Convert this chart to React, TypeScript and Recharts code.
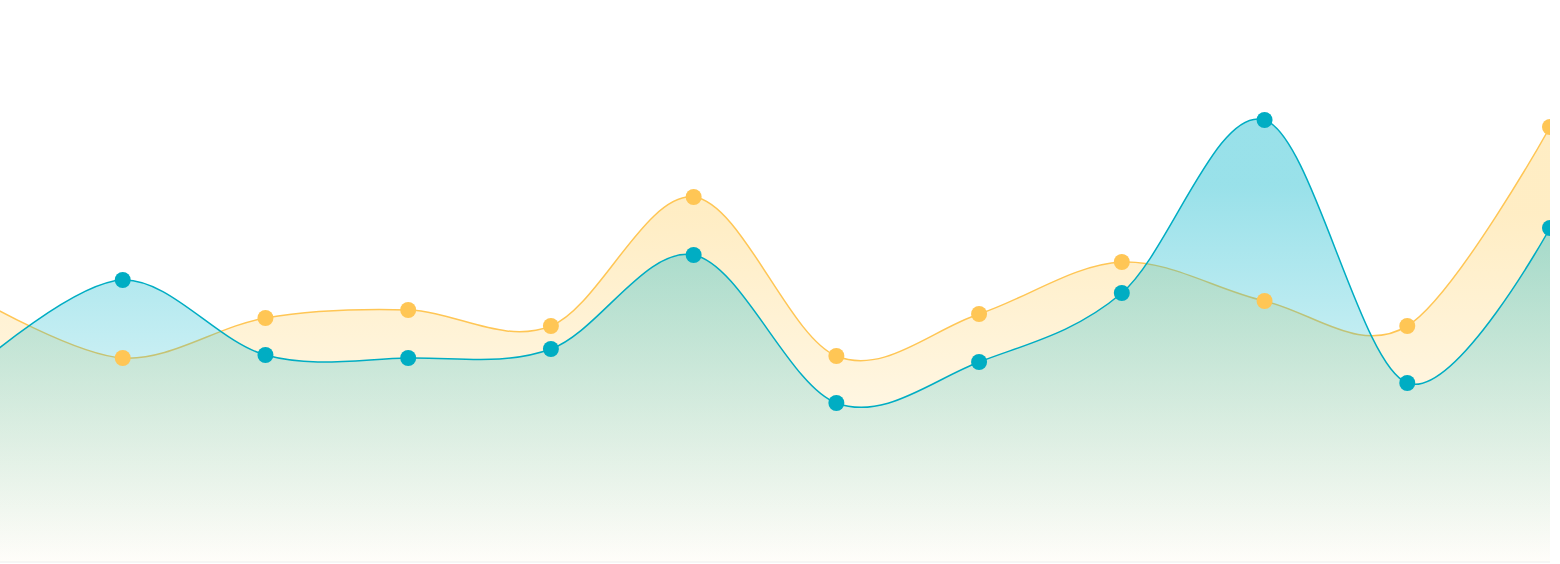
import React from 'react';
import { AreaChart, Area, XAxis, YAxis, ReferenceLine } from 'recharts';

const labels = ['1', '2', '3', '4', '5', '6', '7', '8', '9', '10', '11', '12'];
const tealValues = [198, 282, 207, 204, 213, 307, 159, 200, 269, 442, 179, 334];
const yellowValues = [262, 204, 244, 252, 236, 365, 206, 248, 300, 261, 236, 435];

const data = labels.map((name, i) => ({ name, teal: tealValues[i], yellow: yellowValues[i] }));

// cardinal spline (same logic as d3 curveCardinal, tension 0)
function cardinal(context: any) {
  const k = 1 / 6;
  const s: any = {};
  const pt = (x: number, y: number) => {
    context.bezierCurveTo(
      s.x1 + k * (s.x2 - s.x0), s.y1 + k * (s.y2 - s.y0),
      s.x2 + k * (s.x1 - x), s.y2 + k * (s.y1 - y),
      s.x2, s.y2
    );
  };
  return {
    areaStart() { s.line = 0; },
    areaEnd() { s.line = NaN; },
    lineStart() { s.x0 = s.x1 = s.x2 = s.y0 = s.y1 = s.y2 = NaN; s.point = 0; },
    lineEnd() {
      if (s.point === 2) context.lineTo(s.x2, s.y2);
      else if (s.point === 3) pt(s.x1, s.y1);
      if (s.line || (s.line !== 0 && s.point === 1)) context.closePath();
      s.line = 1 - s.line;
    },
    point(x: number, y: number) {
      x = +x; y = +y;
      switch (s.point) {
        case 0: s.point = 1; s.line ? context.lineTo(x, y) : context.moveTo(x, y); break;
        case 1: s.point = 2; s.x1 = x; s.y1 = y; break;
        case 2: s.point = 3; pt(x, y); break;
        default: pt(x, y); break;
      }
      s.x0 = s.x1; s.x1 = s.x2; s.x2 = x;
      s.y0 = s.y1; s.y1 = s.y2; s.y2 = y;
    },
  };
}

export default function App() {
  return (
    <div style={{ position: 'absolute', left: 0, top: 0, width: 1560, height: 564, overflow: 'hidden', background: '#fff' }}>
      <div style={{ position: 'absolute', left: -20, top: 0 }}>
        <AreaChart width={1570} height={564} data={data} margin={{ top: 0, right: 0, bottom: 2, left: 0 }}>
          <defs>
            <linearGradient id="gTeal" x1="0" y1="0" x2="0" y2="1">
              <stop offset="15%" stopColor="#1cbccf" stopOpacity={0.75} />
              <stop offset="100%" stopColor="#1cbccf" stopOpacity={0} />
            </linearGradient>
            <linearGradient id="gYellow" x1="0" y1="0" x2="0" y2="1">
              <stop offset="20%" stopColor="#ffc94d" stopOpacity={0.55} />
              <stop offset="100%" stopColor="#ffc94d" stopOpacity={0.05} />
            </linearGradient>
          </defs>
          <XAxis dataKey="name" hide />
          <YAxis hide domain={[0, 562]} />
          <ReferenceLine y={0} stroke="#eeeeee" />
          <Area type={cardinal as any} dataKey="yellow" stroke="#ffc655" strokeWidth={1.5} fill="url(#gYellow)"
            dot={{ r: 8, fill: '#ffc655', stroke: 'none', fillOpacity: 1 }} activeDot={false} isAnimationActive={false} />
          <Area type={cardinal as any} dataKey="teal" stroke="#00adc3" strokeWidth={1.5} fill="url(#gTeal)"
            dot={{ r: 8, fill: '#00adc3', stroke: 'none', fillOpacity: 1 }} activeDot={false} isAnimationActive={false} />
        </AreaChart>
      </div>
    </div>
  );
}
